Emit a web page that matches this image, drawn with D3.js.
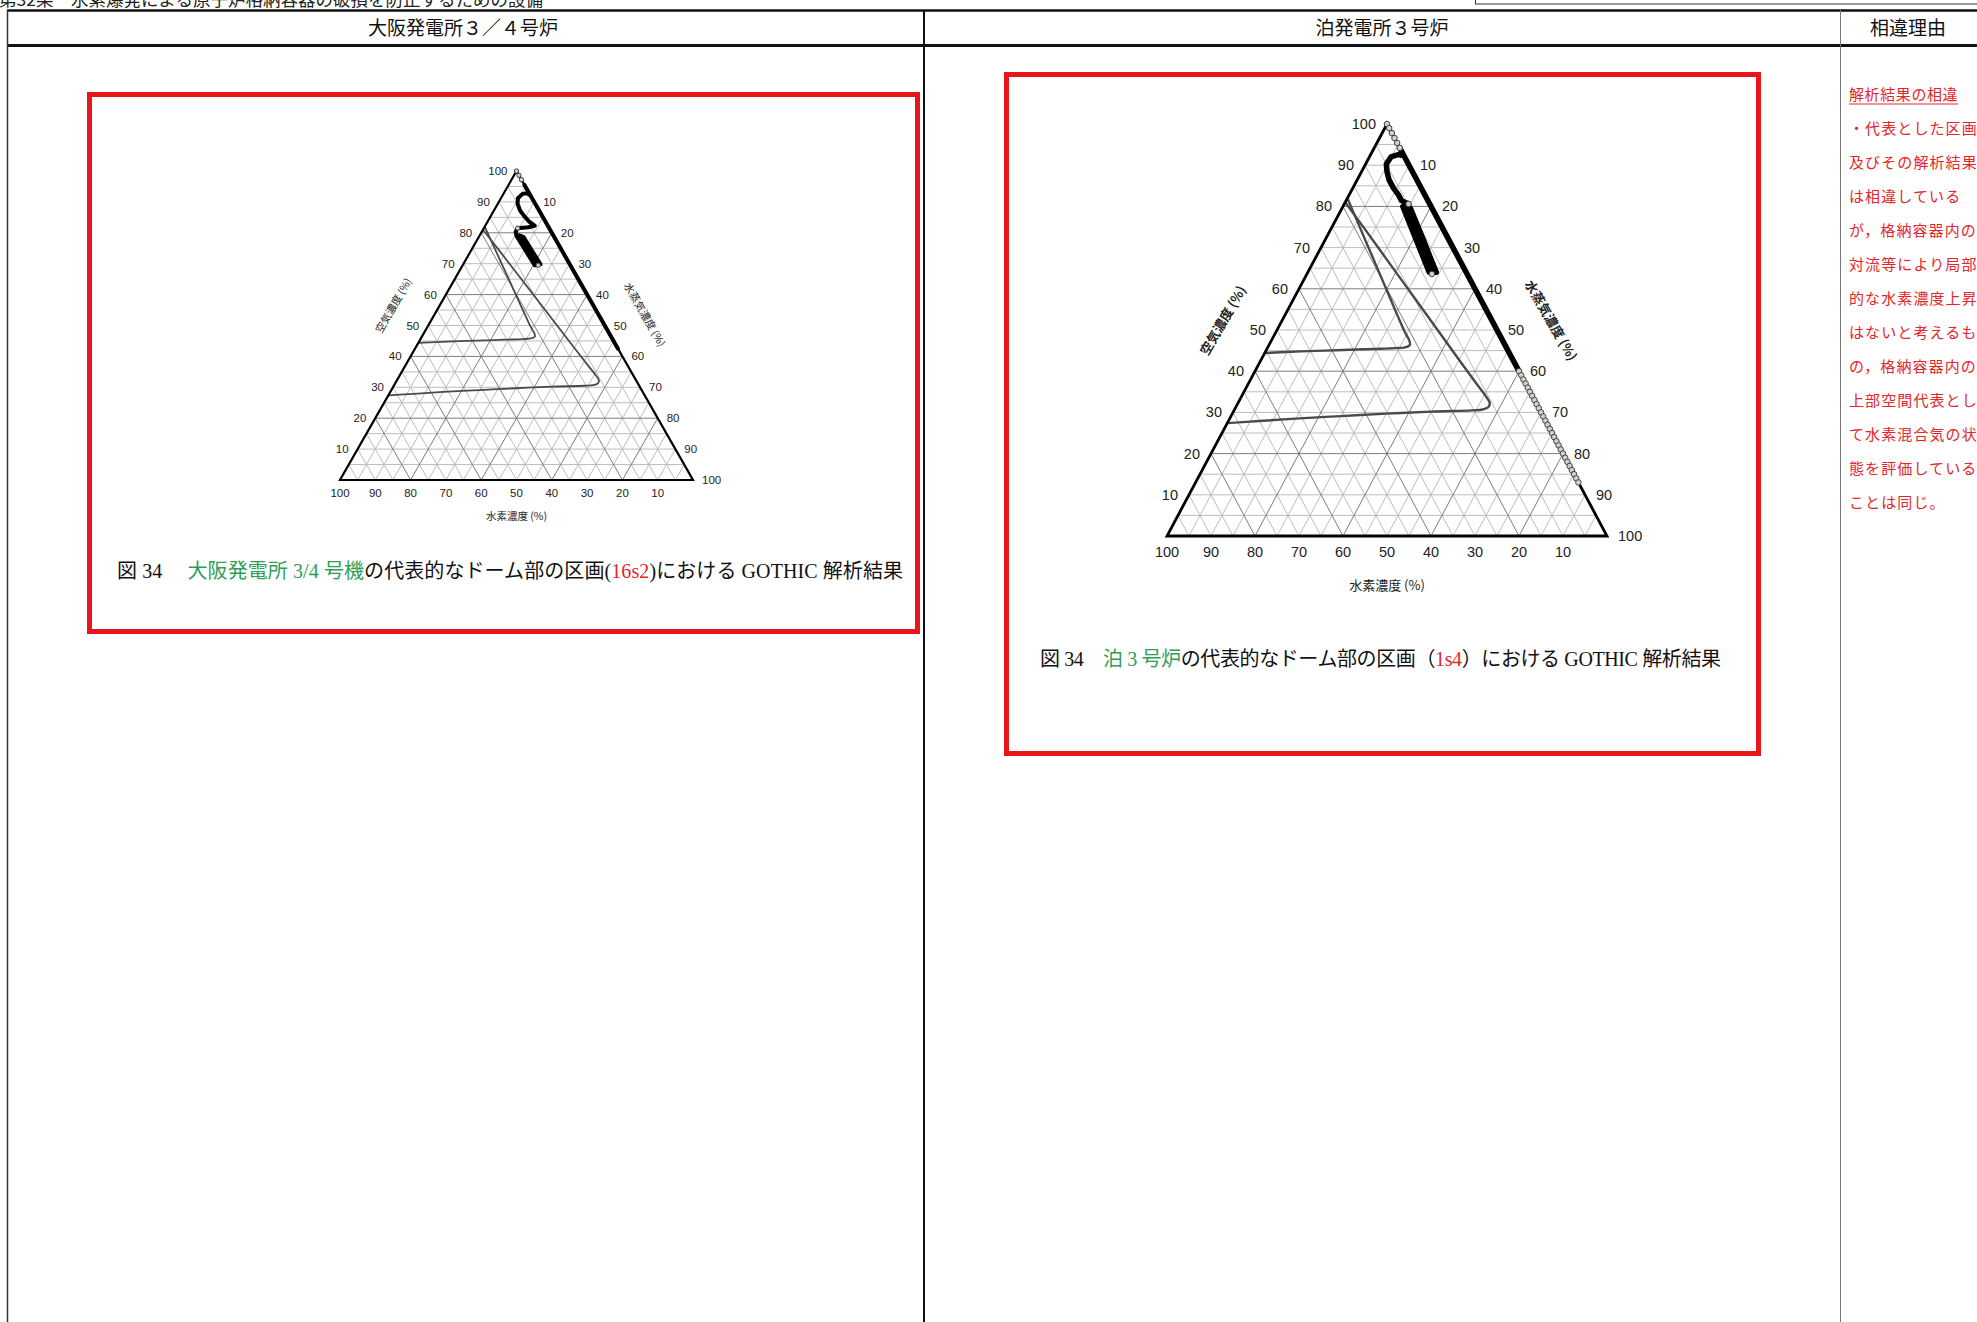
<!DOCTYPE html>
<html>
<head>
<meta charset="utf-8">
<script src="https://cdn.jsdelivr.net/npm/d3@7"></script>
<style>
body { margin: 0; background: #fff; }
svg { display: block; }
text { white-space: pre; }
</style>
</head>
<body>
<svg id="page" width="1977" height="1322"></svg>
<script>
var fontJP = "'Noto Sans CJK JP', sans-serif";
var fontCap = "'Liberation Serif', 'Noto Sans CJK JP', serif";
var fontNum = "'Liberation Sans', Arial, sans-serif";
var green = "#2f9e55";
var red = "#e3262b";

var pageHeading = "第32条　水素爆発による原子炉格納容器の破損を防止するための設備";
var columnHeads = ["大阪発電所３／４号炉", "泊発電所３号炉", "相違理由"];

// ternary axes: air (left), steam (right), hydrogen (bottom), all in %
var tickValues = [10, 20, 30, 40, 50, 60, 70, 80, 90, 100];
var gridSteps = [5, 10, 15, 20, 25, 30, 35, 40, 45, 50, 55, 60, 65, 70, 75, 80, 85, 90, 95];
var axisTitles = ["空気濃度 (%)", "水蒸気濃度 (%)", "水素濃度 (%)"];

// flammability / detonation boundaries, [air, steam]
var outerLimit = [[81, 0], [74, 8.3], [66, 17.7], [58, 27.1], [50, 36.5], [42, 45.9], [37, 51.8], [34, 55.4],
  [32.3, 57.2], [31.3, 57.4], [30.7, 56.4], [30.5, 54], [30.2, 45], [29.7, 35], [29.1, 25], [28.5, 15], [27.9, 7], [27.4, 0]];
var innerLimit = [[82, 0], [76, 5.4], [68, 12.6], [60, 19.8], [53, 26.1], [49.5, 29.3], [47.5, 31.3], [46.4, 32],
  [45.8, 31.2], [45.6, 29], [45.4, 24], [45.1, 16], [44.8, 8], [44.4, 0]];

// GOTHIC results, [air, steam]
var ohiTrack = [[95.5, 4.5], [92, 8], [85, 15], [75, 25], [65, 35], [55, 45], [47, 53], [42.5, 57.5], [50, 50],
  [60, 40], [70, 30], [80, 20], [88, 12], [92, 8], [92.8, 6.6], [92.6, 5.4], [91.2, 4.8], [89.4, 5.6], [87.2, 7.4],
  [85.3, 9.6], [83.6, 11.8], [82.3, 14], [81.8, 12.5], [81.5, 9.6], [80.3, 9.6], [79, 10.5], [74.2, 15.5],
  [69.5, 20.4], [69.8, 21.9], [74.2, 17.3], [78.6, 12.7], [79.2, 11.2], [74.2, 16.4], [69.5, 21.4]];
var ohiMarkers = [[100, 0], [98.6, 1.4], [97.2, 2.8], [81.5, 9.6], [69.5, 21.4]];

var tomariTrack = [[94.2, 5.8], [92, 8], [85, 15], [75, 25], [65, 35], [55, 45], [47, 53], [40.5, 59.5], [50, 50],
  [60, 40], [70, 30], [80, 20], [88, 12], [92.3, 7.7], [92.6, 6.3], [92, 4.9], [90.3, 4.7], [88.4, 5.8], [86.5, 7.2],
  [84.5, 9.2], [82.8, 11.2], [81.4, 12.6], [80.6, 14.6], [80, 13.6], [72, 20.6], [64, 27.6], [64, 29.2],
  [72, 22.2], [79.5, 15.6], [80.5, 14], [72, 21.4], [64, 28.4]];
var tomariMarkers = [[100, 0], [99, 1], [97.8, 2.2], [96.6, 3.4], [95.4, 4.6], [94.2, 5.8],
  [40, 60], [39, 61], [38, 62], [37, 63], [36, 64], [35, 65], [34, 66], [33, 67], [32, 68], [31, 69], [30, 70],
  [29, 71], [28, 72], [27, 73], [26, 74], [25, 75], [24, 76], [23, 77], [22, 78], [21, 79], [20, 80], [19, 81],
  [18, 82], [17, 83], [16, 84], [15, 85], [14, 86], [13, 87], [80.6, 14.6], [63.6, 28.4]];

var ohiCaption = [["図 34　 ", "#111"], ["大阪発電所 3/4 号機", green], ["の代表的なドーム部の区画(", "#111"],
  ["16s2", red], [")における GOTHIC 解析結果", "#111"]];
var tomariCaption = [["図 34　", "#111"], ["泊 3 号炉", green], ["の代表的なドーム部の区画（", "#111"],
  ["1s4", red], ["）における GOTHIC 解析結果", "#111"]];

var reasonHead = "解析結果の相違";
var reasonLines = ["・代表とした区画", "及びその解析結果", "は相違している", "が，格納容器内の", "対流等により局部",
  "的な水素濃度上昇", "はないと考えるも", "の，格納容器内の", "上部空間代表とし", "て水素混合気の状",
  "態を評価している", "ことは同じ。"];

var svg = d3.select("#page");

function drawTable() {
	svg.append("text").attr("x", -1).attr("y", 6)
		.style("font-family", fontJP).style("font-size", "17.5px").style("fill", "#222")
		.text(pageHeading);
	svg.append("rect").attr("x", 1475.5).attr("y", -6).attr("width", 520).attr("height", 10)
		.style("fill", "none").style("stroke", "#333").style("stroke-width", 1);

	var lines = [
		[7, 10.5, 1977, 10.5, 2.5, "#111"],
		[7, 45.5, 1977, 45.5, 3, "#111"],
		[7.5, 10, 7.5, 1322, 1.5, "#333"],
		[924, 10, 924, 1322, 2, "#111"],
		[1840.5, 10, 1840.5, 1322, 1, "#777"]
	];
	svg.selectAll("line.grid-table").data(lines).enter().append("line")
		.attr("x1", function(d) { return d[0]; })
		.attr("y1", function(d) { return d[1]; })
		.attr("x2", function(d) { return d[2]; })
		.attr("y2", function(d) { return d[3]; })
		.style("stroke-width", function(d) { return d[4]; })
		.style("stroke", function(d) { return d[5]; });

	var centers = [463, 1382, 1908];
	svg.selectAll("text.head").data(columnHeads).enter().append("text")
		.attr("x", function(d, i) { return centers[i]; })
		.attr("y", 35)
		.attr("text-anchor", "middle")
		.style("font-family", fontJP).style("font-size", "19px").style("fill", "#111")
		.text(function(d) { return d; });
}

function drawReasons() {
	svg.append("text").attr("x", 1849).attr("y", 100)
		.style("font-family", fontJP).style("font-size", "15px").style("letter-spacing", "0.6px")
		.style("fill", red).text(reasonHead);
	svg.append("line").attr("x1", 1849).attr("x2", 1958).attr("y1", 104).attr("y2", 104)
		.style("stroke", red).style("stroke-width", 1);
	svg.selectAll("text.reason").data(reasonLines).enter().append("text")
		.attr("x", 1849)
		.attr("y", function(d, i) { return 134 + i * 34; })
		.style("font-family", fontJP).style("font-size", "15px").style("letter-spacing", "1.1px")
		.style("fill", red)
		.text(function(d) { return d; });
}

function drawCaption(x, y, len, parts) {
	var t = svg.append("text").attr("x", x).attr("y", y)
		.attr("textLength", len).attr("lengthAdjust", "spacing")
		.style("font-family", fontCap).style("font-size", "20px");
	parts.forEach(function(p) {
		t.append("tspan").style("fill", p[1]).text(p[0]);
	});
}

function drawTernary(o) {
	var g = svg.append("g");
	var xs = d3.scaleLinear().domain([0, 100]).range([o.x0, o.x1]);
	var ys = d3.scaleLinear().domain([0, 100]).range([o.yBase, o.yTop]);
	function px(d) { return xs(d[1] + d[0] / 2); }
	function py(d) { return ys(d[0]); }

	var segs = [];
	gridSteps.forEach(function(v) {
		var major = v % 20 == 0;
		segs.push({ m: major, p: [[v, 0], [v, 100 - v]] });
		segs.push({ m: major, p: [[0, v], [100 - v, v]] });
		segs.push({ m: major, p: [[0, 100 - v], [100 - v, 0]] });
	});
	segs.sort(function(a, b) { return a.m - b.m; });
	g.selectAll("line.grid").data(segs).enter().append("line")
		.attr("x1", function(d) { return px(d.p[0]); })
		.attr("y1", function(d) { return py(d.p[0]); })
		.attr("x2", function(d) { return px(d.p[1]); })
		.attr("y2", function(d) { return py(d.p[1]); })
		.style("stroke", function(d) { return d.m ? "#7c7c7c" : "#bcbcbc"; })
		.style("stroke-width", 1);

	var smooth = d3.line().x(px).y(py).curve(d3.curveCatmullRom.alpha(0.5));
	[outerLimit, innerLimit].forEach(function(c) {
		g.append("path").attr("d", smooth(c))
			.style("fill", "none").style("stroke", "#4a4a4a").style("stroke-width", o.limitW);
	});

	var edge = d3.line().x(px).y(py);
	g.append("path").attr("d", edge([[100, 0], [0, 0], [0, 100]]) + "Z")
		.style("fill", "none").style("stroke", "#000").style("stroke-width", o.edgeW)
		.style("stroke-linejoin", "miter");

	g.append("path").attr("d", edge(o.track))
		.style("fill", "none").style("stroke", "#000").style("stroke-width", o.trackW)
		.style("stroke-linejoin", "round").style("stroke-linecap", "round");

	g.selectAll("circle").data(o.markers).enter().append("circle")
		.attr("cx", px).attr("cy", py).attr("r", o.markR)
		.style("fill", "#cfcfcf").style("stroke", "#333").style("stroke-width", 0.9);

	function label(pt, txt, anchor, dx, dy) {
		g.append("text").attr("x", px(pt) + dx).attr("y", py(pt) + dy)
			.attr("text-anchor", anchor)
			.style("font-family", fontNum).style("font-size", o.font + "px").style("fill", "#222")
			.text(txt);
	}
	tickValues.forEach(function(t) {
		label([t, 0], t, "end", -o.gap, o.font * 0.35);
		label([100 - t, t], t, "start", o.gap, o.font * 0.35);
		label([0, 100 - t], t, "middle", 0, o.font + o.gap * 0.6);
	});

	// axis titles
	var lp = [o.leftAt, 0], rp = [100 - o.rightAt, o.rightAt];
	g.append("text")
		.attr("transform", "translate(" + (px(lp) - 0.866 * o.titleOff) + "," + (py(lp) - 0.5 * o.titleOff) + ") rotate(-60)")
		.attr("text-anchor", "middle").attr("dy", "0.35em")
		.style("font-family", fontJP).style("font-size", o.titleFont + "px").style("font-weight", o.titleWeight)
		.style("fill", "#222")
		.text(axisTitles[0]);
	g.append("text")
		.attr("transform", "translate(" + (px(rp) + 0.866 * o.titleOff) + "," + (py(rp) - 0.5 * o.titleOff) + ") rotate(60)")
		.attr("text-anchor", "middle").attr("dy", "0.35em")
		.style("font-family", fontJP).style("font-size", o.titleFont + "px").style("font-weight", o.titleWeight)
		.style("fill", "#222")
		.text(axisTitles[1]);
	g.append("text")
		.attr("x", xs(50)).attr("y", o.yBase + o.bottomOff)
		.attr("text-anchor", "middle").attr("dy", "0.35em")
		.style("font-family", fontJP).style("font-size", o.titleFont + "px").style("fill", "#222")
		.text(axisTitles[2]);
}

function drawBoxes() {
	var boxes = [[89.5, 94.5, 828, 537], [1006.5, 74.5, 752, 679]];
	svg.selectAll("rect.box").data(boxes).enter().append("rect")
		.attr("x", function(d) { return d[0]; })
		.attr("y", function(d) { return d[1]; })
		.attr("width", function(d) { return d[2]; })
		.attr("height", function(d) { return d[3]; })
		.style("fill", "none").style("stroke", "#e8151c").style("stroke-width", 5);
}

function init() {
	drawTable();
	drawTernary({ x0: 340, x1: 693, yTop: 171, yBase: 480, font: 11.5, gap: 9, titleFont: 10.5, titleWeight: 400,
		titleOff: 40, bottomOff: 36, leftAt: 50, rightAt: 53, edgeW: 2.2, limitW: 1.8, trackW: 4, markR: 2.2,
		track: ohiTrack, markers: ohiMarkers });
	drawTernary({ x0: 1167, x1: 1607, yTop: 124, yBase: 536, font: 14.5, gap: 11, titleFont: 13, titleWeight: 700,
		titleOff: 52, bottomOff: 49, leftAt: 46, rightAt: 54, edgeW: 2.8, limitW: 2.4, trackW: 5.5, markR: 2.8,
		track: tomariTrack, markers: tomariMarkers });
	drawCaption(117, 578, 786, ohiCaption);
	drawCaption(1040, 666, 681, tomariCaption);
	drawBoxes();
	drawReasons();
}

init();
</script>
</body>
</html>
